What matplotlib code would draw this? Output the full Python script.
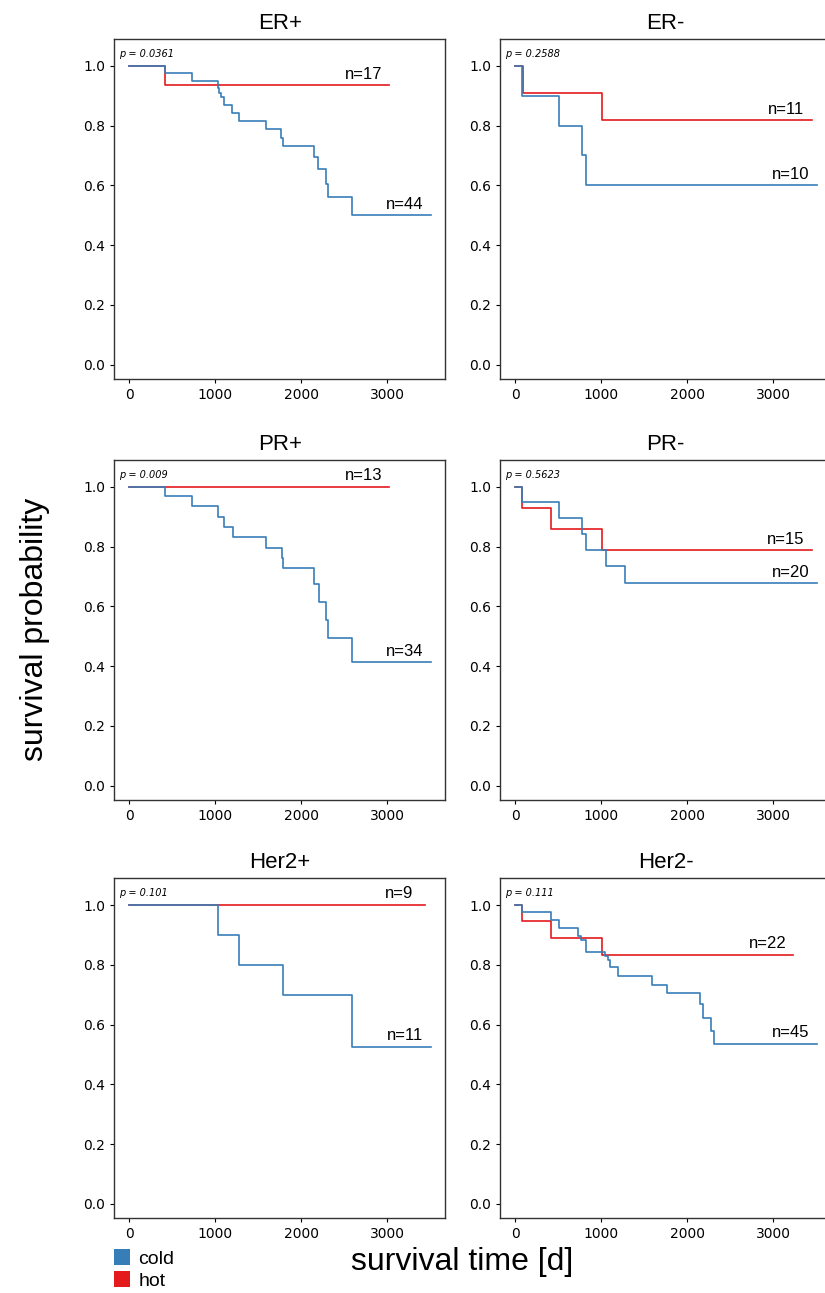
import matplotlib
matplotlib.use("Agg")
import matplotlib.pyplot as plt
from matplotlib.patches import Patch

# Kaplan-Meier steps (time [d], survival probability)
er_pos_cold_t = [0, 415, 733, 1027, 1043, 1063, 1101, 1198, 1276, 1586, 1764, 1787, 2144, 2198, 2284, 2310, 2590, 3505]
er_pos_cold_s = [1.0, 0.975, 0.950, 0.925, 0.910, 0.895, 0.870, 0.843, 0.815, 0.787, 0.758, 0.732, 0.694, 0.653, 0.605, 0.561, 0.499, 0.499]
er_pos_hot_t = [0, 415, 3023]
er_pos_hot_s = [1.0, 0.934, 0.934]

er_neg_cold_t = [0, 81, 504, 772, 822, 3505]
er_neg_cold_s = [1.0, 0.9, 0.8, 0.7, 0.6, 0.6]
er_neg_hot_t = [0, 90, 1005, 3447]
er_neg_hot_s = [1.0, 0.909, 0.818, 0.818]

pr_pos_cold_t = [0, 415, 733, 1035, 1105, 1202, 1586, 1772, 1787, 2144, 2202, 2284, 2310, 2590, 3505]
pr_pos_cold_s = [1.0, 0.969, 0.934, 0.900, 0.866, 0.831, 0.796, 0.762, 0.727, 0.676, 0.616, 0.555, 0.493, 0.412, 0.412]
pr_pos_hot_t = [0, 3023]
pr_pos_hot_s = [1.0, 1.0]

pr_neg_cold_t = [0, 81, 504, 772, 822, 1054, 1279, 3505]
pr_neg_cold_s = [1.0, 0.948, 0.895, 0.843, 0.790, 0.734, 0.677, 0.677]
pr_neg_hot_t = [0, 81, 415, 1005, 3447]
pr_neg_hot_s = [1.0, 0.929, 0.858, 0.788, 0.788]

her2_pos_cold_t = [0, 1031, 1276, 1787, 2590, 3505]
her2_pos_cold_s = [1.0, 0.9, 0.8, 0.7, 0.525, 0.525]
her2_pos_hot_t = [0, 3442]
her2_pos_hot_s = [1.0, 1.0]

her2_neg_cold_t = [0, 81, 415, 508, 733, 760, 826, 1047, 1074, 1101, 1194, 1593, 1764, 2148, 2183, 2280, 2310, 3505]
her2_neg_cold_s = [1.0, 0.977, 0.950, 0.924, 0.897, 0.884, 0.844, 0.829, 0.815, 0.791, 0.761, 0.732, 0.704, 0.668, 0.622, 0.579, 0.536, 0.536]
her2_neg_hot_t = [0, 81, 415, 1005, 3233]
her2_neg_hot_s = [1.0, 0.945, 0.889, 0.833, 0.833]

titles = ["ER+", "ER-", "PR+", "PR-", "Her2+", "Her2-"]
p_values = ["0.0361", "0.2588", "0.009", "0.5623", "0.101", "0.111"]
n_cold = [44, 10, 34, 20, 11, 45]
n_hot = [17, 11, 13, 15, 9, 22]

cold_curves = [(er_pos_cold_t, er_pos_cold_s), (er_neg_cold_t, er_neg_cold_s),
               (pr_pos_cold_t, pr_pos_cold_s), (pr_neg_cold_t, pr_neg_cold_s),
               (her2_pos_cold_t, her2_pos_cold_s), (her2_neg_cold_t, her2_neg_cold_s)]
hot_curves = [(er_pos_hot_t, er_pos_hot_s), (er_neg_hot_t, er_neg_hot_s),
              (pr_pos_hot_t, pr_pos_hot_s), (pr_neg_hot_t, pr_neg_hot_s),
              (her2_pos_hot_t, her2_pos_hot_s), (her2_neg_hot_t, her2_neg_hot_s)]

COLD = "#377eb8"
HOT = "#e41a1c"
ARIAL = "Liberation Sans"

fig = plt.figure(figsize=(8.25, 12.93), dpi=100)

col_x = [0.1385, 0.6064]
row_y = [0.7069, 0.3813, 0.0578]
w, h = 0.4012, 0.2633

for i in range(6):
    r, c = divmod(i, 2)
    ax = fig.add_axes([col_x[c], row_y[r], w, h])

    ht, hs = hot_curves[i]
    ct, cs = cold_curves[i]
    ax.step(ht, hs, where="post", color=HOT, lw=1.2)
    ax.step(ct, cs, where="post", color=COLD, lw=1.2)

    # n labels just above the end of each curve
    ax.text(ct[-1] - 300, cs[-1] + 0.037, f"n={n_cold[i]}", ha="center", va="center",
            fontsize=12, family=ARIAL)
    ax.text(ht[-1] - 300, hs[-1] + 0.037, f"n={n_hot[i]}", ha="center", va="center",
            fontsize=12, family=ARIAL)

    ax.text(0.015, 0.955, f"p = {p_values[i]}", transform=ax.transAxes,
            fontsize=7, style="italic", va="center")

    ax.set_title(titles[i], fontsize=16, family=ARIAL, pad=7)
    ax.set_xlim(-175, 3675)
    ax.set_ylim(-0.048, 1.091)
    ax.set_xticks([0, 1000, 2000, 3000])
    ax.set_yticks([0.0, 0.2, 0.4, 0.6, 0.8, 1.0])
    ax.tick_params(labelsize=10, length=3, width=0.8)
    for sp in ax.spines.values():
        sp.set_linewidth(1.0)
        sp.set_color("#333333")

fig.text(0.042, 0.513, "survival probability", rotation=90, ha="center", va="center",
         fontsize=23, family=ARIAL)
fig.text(0.56, 0.024, "survival time [d]", ha="center", va="center",
         fontsize=23, family=ARIAL)

handles = [Patch(facecolor=COLD, edgecolor="none"), Patch(facecolor=HOT, edgecolor="none")]
fig.legend(handles, ["cold", "hot"], loc="upper left", bbox_to_anchor=(0.138, 0.034),
           frameon=False, prop={"family": ARIAL, "size": 14},
           handlelength=0.85, handleheight=0.85, handletextpad=0.4,
           labelspacing=0.2, borderpad=0, borderaxespad=0)

fig.savefig("out.png", dpi=100)
